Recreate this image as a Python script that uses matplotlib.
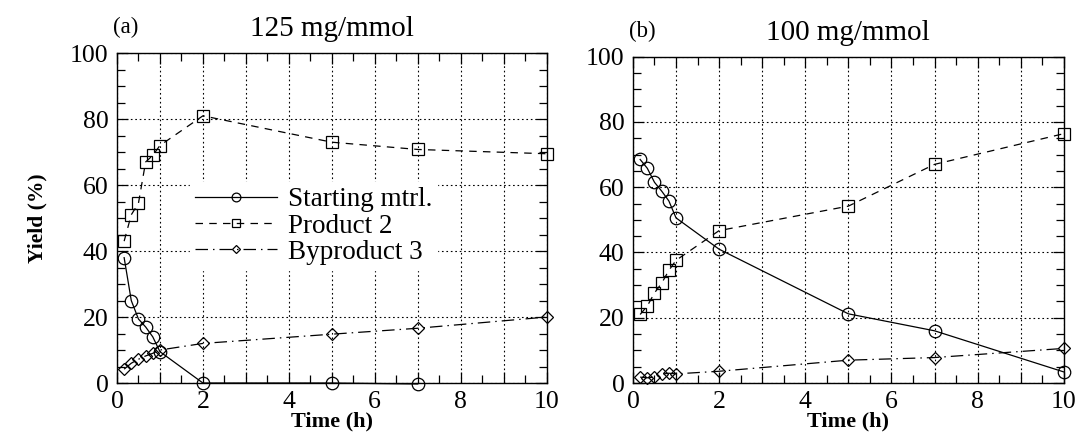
import numpy as np
import matplotlib
matplotlib.use('Agg')
import matplotlib.pyplot as plt
from matplotlib.ticker import MultipleLocator, FuncFormatter

plt.rcParams['font.family'] = ['Liberation Serif', 'DejaVu Serif']

# sampling times (h)
t = [0.167, 0.333, 0.5, 0.667, 0.833, 1, 2, 5, 7, 10]

# (a) 125 mg/mmol
start_a = [38, 25, 19.4, 17, 14, 9.5, 0, 0, -0.3]
prod_a = [43, 51, 54.5, 67, 69, 72, 81, 73, 70.8, 69.5]
byprod_a = [4.2, 6, 7.2, 8.2, 9, 10, 12, 14.8, 16.6, 20]

# (b) 100 mg/mmol
start_b = [68.5, 65.8, 61.5, 58.8, 55.8, 50.6, 41, 21.2, 16, 3.4]
prod_b = [21, 23.6, 27.6, 30.6, 34.5, 37.6, 46.7, 54.2, 67, 76.4]
byprod_b = [1.8, 1.6, 1.8, 2.7, 3, 2.8, 3.6, 7, 7.8, 10.6]

titles = ['125 mg/mmol', '100 mg/mmol']
tags = ['(a)', '(b)']
labels = ['Starting mtrl.', 'Product 2', 'Byproduct 3']

fig = plt.figure(figsize=(10.77, 4.41), dpi=100)
ax1 = fig.add_axes([0.1086, 0.1315, 0.399, 0.748])
ax2 = fig.add_axes([0.5877, 0.1315, 0.400, 0.740])

dash_prod = (0, (6, 5))
dash_by = (0, (10, 4, 1.2, 4))

for ax, s, p, b, title, tag in [(ax1, start_a, prod_a, byprod_a, titles[0], tags[0]),
                                 (ax2, start_b, prod_b, byprod_b, titles[1], tags[1])]:
    ax.plot(t[:len(s)], s, color='black', lw=0.9, marker='o', ms=9, mfc='none',
            mec='black', mew=0.9, label=labels[0], clip_on=False)
    ax.plot(t, p, color='black', lw=0.9, ls=dash_prod, marker='s', ms=9, mfc='none',
            mec='black', mew=0.9, label=labels[1], clip_on=False)
    ax.plot(t, b, color='black', lw=0.9, ls=dash_by, marker='D', ms=6, mfc='none',
            mec='black', mew=0.9, label=labels[2], clip_on=False)

    ax.set_xlim(0, 10)
    ax.set_ylim(0, 100)
    ax.xaxis.set_major_locator(MultipleLocator(1))
    ax.xaxis.set_minor_locator(MultipleLocator(0.5))
    ax.xaxis.set_major_formatter(FuncFormatter(lambda v, pos: f'{v:.0f}' if round(v) % 2 == 0 else ''))
    ax.yaxis.set_major_locator(MultipleLocator(20))
    ax.yaxis.set_minor_locator(MultipleLocator(5))
    ax.tick_params(which='both', direction='in', top=True, right=True, labelsize=18.5, pad=6)
    ax.tick_params(which='major', length=8, width=0.9)
    ax.tick_params(which='minor', length=6, width=0.9)
    ax.grid(True, which='major', ls=(0, (1.5, 2.5)), color='black', lw=0.8)
    for sp in ax.spines.values():
        sp.set_linewidth(1.0)
    ax.set_xlabel('Time (h)', fontsize=16, fontweight='bold', labelpad=-1)
    ax.set_title(title, fontsize=21, pad=12)
    ax.text(-0.01, 1.045, tag, transform=ax.transAxes, fontsize=16.5, ha='left', va='bottom')

ax1.set_ylabel('Yield (%)', fontsize=15.5, fontweight='bold', labelpad=16)

leg = ax1.legend(loc='upper left', bbox_to_anchor=(0.17, 0.61), fontsize=19.5,
                 handlelength=3.0, handletextpad=0.4, labelspacing=0.05,
                 borderaxespad=0, markerscale=0.7, frameon=True, fancybox=False,
                 framealpha=1, edgecolor='white', borderpad=0.2)

plt.savefig('out.png', dpi=100)
